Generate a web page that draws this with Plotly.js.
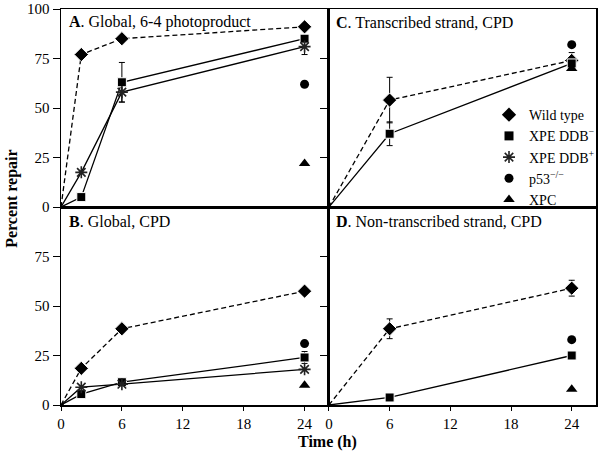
<!DOCTYPE html>
<html>
<head>
<meta charset="utf-8">
<script src="https://cdn.plot.ly/plotly-3.0.1.min.js"></script>
<style>html,body{margin:0;padding:0;background:#fff;}#chart{width:609px;height:455px;}</style>
</head>
<body>
<div id="chart"></div>
<script>
// ---- Data ----
const timesLine = [0, 2, 6, 24];
const timesLineCD = [0, 6, 24];
const timeEnd = [24];
const xTicks = [0, 6, 12, 18, 24];
const yTicksLeftTop = [0, 25, 50, 75, 100];
const yTicksLeftBottom = [0, 25, 50, 75];
const yTicksRight = [25, 50, 75];

// Panel A: Global, 6-4 photoproduct
const aWild = [0, 77, 85, 91];
const aDDBminus = [0, 5, 63, 85];
const aDDBminusErr = [0, 0, 10, 0];
const aDDBplus = [0, 17.5, 58, 81];
const aDDBplusErr = [0, 0, 5, 4];
const aP53 = [62];
const aXPC = [22];

// Panel B: Global, CPD
const bWild = [0, 18.5, 38.5, 57.5];
const bDDBminus = [0, 5.5, 11.5, 24];
const bDDBminusErr = [0, 0, 1.5, 3];
const bDDBplus = [0, 9, 10.5, 18];
const bP53 = [31];
const bXPC = [10];

// Panel C: Transcribed strand, CPD
const cWild = [0, 54, 74];
const cWildErr = [0, 11.5, 4];
const cDDBminus = [0, 37, 72.5];
const cDDBminusErr = [0, 6, 2];
const cP53 = [82];
const cXPC = [70];

// Panel D: Non-transcribed strand, CPD
const dWild = [0, 38.5, 59];
const dWildErr = [0, 5, 4];
const dDDBminus = [0, 3.8, 25];
const dDDBminusErr = [0, 1, 2];
const dP53 = [33];
const dXPC = [8];

const seriesNames = ['Wild type', 'XPE DDB<sup>\u2212</sup>', 'XPE DDB<sup>+</sup>', 'p53<sup>\u2212/\u2212</sup>', 'XPC'];
const panelLabels = ['<b>A</b>. Global, 6-4 photoproduct', '<b>B</b>. Global, CPD', '<b>C</b>. Transcribed strand, CPD', '<b>D</b>. Non-transcribed strand, CPD'];

// ---- Styles ----
const FONT = 'Liberation Serif';
const mk = {
  wild: {symbol: 'diamond', size: 11, color: '#000', opacity: 1},
  ddbm: {symbol: 'square', size: 9, color: '#000', opacity: 1},
  ddbp: {symbol: 'asterisk-open', size: 10, color: '#222', opacity: 1, line: {color: '#222', width: 1.6}},
  p53: {symbol: 'circle', size: 9, color: '#000', opacity: 1},
  xpc: {symbol: 'triangle-up', size: 10, color: '#000', opacity: 1}
};
const dashLine = {color: '#000', width: 1.3, dash: '5px,3px'};
const solidLine = {color: '#000', width: 1.3};
function err(arr) { return {type: 'data', array: arr, visible: true, color: '#000', thickness: 1, width: 3}; }

// no marker drawn at the origin (lines start from 0 without a symbol)
function hideOrigin(marker, x) {
  const m = Object.assign({}, marker);
  m.size = x.map(function (t) { return t === 0 ? 0 : marker.size; });
  m.opacity = 1;
  return m;
}
function lineTrace(x, y, marker, line, xa, ya, e) {
  const t = {x: x, y: y, mode: 'lines+markers', marker: hideOrigin(marker, x), line: line, xaxis: xa, yaxis: ya, showlegend: false, cliponaxis: false, hoverinfo: 'skip'};
  if (e) t.error_y = err(e);
  return t;
}
function ptTrace(x, y, marker, xa, ya) {
  return {x: x, y: y, mode: 'markers', marker: marker, xaxis: xa, yaxis: ya, showlegend: false, cliponaxis: false, hoverinfo: 'skip'};
}

const data = [
  // A
  lineTrace(timesLine, aWild, mk.wild, dashLine, 'x', 'y'),
  lineTrace(timesLine, aDDBminus, mk.ddbm, solidLine, 'x', 'y', aDDBminusErr),
  lineTrace(timesLine, aDDBplus, mk.ddbp, solidLine, 'x', 'y', aDDBplusErr),
  ptTrace(timeEnd, aP53, mk.p53, 'x', 'y'),
  ptTrace(timeEnd, aXPC, mk.xpc, 'x', 'y'),
  // C
  lineTrace(timesLineCD, cWild, mk.wild, dashLine, 'x2', 'y2', cWildErr),
  lineTrace(timesLineCD, cDDBminus, mk.ddbm, solidLine, 'x2', 'y2', cDDBminusErr),
  ptTrace(timeEnd, cP53, mk.p53, 'x2', 'y2'),
  ptTrace(timeEnd, cXPC, mk.xpc, 'x2', 'y2'),
  // B
  lineTrace(timesLine, bWild, mk.wild, dashLine, 'x3', 'y3'),
  lineTrace(timesLine, bDDBminus, mk.ddbm, solidLine, 'x3', 'y3', bDDBminusErr),
  lineTrace(timesLine, bDDBplus, mk.ddbp, solidLine, 'x3', 'y3'),
  ptTrace(timeEnd, bP53, mk.p53, 'x3', 'y3'),
  ptTrace(timeEnd, bXPC, mk.xpc, 'x3', 'y3'),
  // D
  lineTrace(timesLineCD, dWild, mk.wild, dashLine, 'x4', 'y4', dWildErr),
  lineTrace(timesLineCD, dDDBminus, mk.ddbm, solidLine, 'x4', 'y4', dDDBminusErr),
  ptTrace(timeEnd, dP53, mk.p53, 'x4', 'y4'),
  ptTrace(timeEnd, dXPC, mk.xpc, 'x4', 'y4')
];
// legend entries (markers only)
[mk.wild, mk.ddbm, mk.ddbp, mk.p53, mk.xpc].forEach(function (m, i) {
  data.push({x: [null], y: [null], mode: 'markers', marker: m, name: seriesNames[i], xaxis: 'x2', yaxis: 'y2', showlegend: true, hoverinfo: 'skip'});
});

const xL = [0, 0.5008], xR = [0.5008, 1], yT = [0.5, 1], yB = [0, 0.5];
const tickFont = {family: FONT, size: 15, color: '#000'};
function xax(domain, anchor, labels) {
  return {domain: domain, anchor: anchor, range: [0, 26.4], showline: true, mirror: true, linecolor: '#000', linewidth: 1.5,
    showgrid: false, zeroline: false, tickvals: labels ? xTicks : [], ticks: labels ? 'outside' : '', ticklen: 4, tickcolor: '#000',
    showticklabels: labels, tickfont: tickFont, fixedrange: true};
}
function yax(domain, anchor, vals, labels) {
  return {domain: domain, anchor: anchor, range: [0, 100], showline: true, mirror: true, linecolor: '#000', linewidth: 1.5,
    showgrid: false, zeroline: false, tickvals: vals, ticks: 'outside', ticklen: 7, tickcolor: '#000', tickwidth: 1,
    showticklabels: labels, tickfont: tickFont, fixedrange: true};
}

const annFont = {family: FONT, size: 16, color: '#000'};
const titleFont = {family: FONT, size: 16, color: '#000'};
const layout = {
  width: 609, height: 455,
  margin: {l: 61, r: 10, t: 9, b: 50},
  paper_bgcolor: '#fff', plot_bgcolor: '#fff',
  font: {family: FONT, color: '#000'},
  xaxis: xax(xL, 'y', false), yaxis: yax(yT, 'x', yTicksLeftTop, true),
  xaxis2: xax(xR, 'y2', false), yaxis2: yax(yT, 'x2', yTicksRight, false),
  xaxis3: xax(xL, 'y3', true), yaxis3: yax(yB, 'x3', yTicksLeftBottom, true),
  xaxis4: xax(xR, 'y4', true), yaxis4: yax(yB, 'x4', yTicksRight, false),
  legend: {x: 0.80, y: 0.7725, xanchor: 'left', yanchor: 'top', bgcolor: 'rgba(0,0,0,0)', font: {family: FONT, size: 14, color: '#000'}, itemwidth: 30, tracegroupgap: 0},
  showlegend: true,
  annotations: [
    {text: panelLabels[0], xref: 'paper', yref: 'paper', x: 0.011, y: 0.967, xanchor: 'left', yanchor: 'middle', showarrow: false, font: annFont},
    {text: panelLabels[1], xref: 'paper', yref: 'paper', x: 0.011, y: 0.463, xanchor: 'left', yanchor: 'middle', showarrow: false, font: annFont},
    {text: panelLabels[2], xref: 'paper', yref: 'paper', x: 0.511, y: 0.967, xanchor: 'left', yanchor: 'middle', showarrow: false, font: annFont},
    {text: panelLabels[3], xref: 'paper', yref: 'paper', x: 0.511, y: 0.463, xanchor: 'left', yanchor: 'middle', showarrow: false, font: annFont},
    {text: '<b>Time (h)</b>', xref: 'paper', yref: 'paper', x: 0.498, y: -0.0927, xanchor: 'center', yanchor: 'middle', showarrow: false, font: titleFont},
    {text: '<b>Percent repair</b>', xref: 'paper', yref: 'paper', x: -0.092, y: 0.52, xanchor: 'center', yanchor: 'middle', textangle: -90, showarrow: false, font: titleFont}
  ]
};

Plotly.newPlot('chart', data, layout, {displayModeBar: false, staticPlot: true});
</script>
</body>
</html>
